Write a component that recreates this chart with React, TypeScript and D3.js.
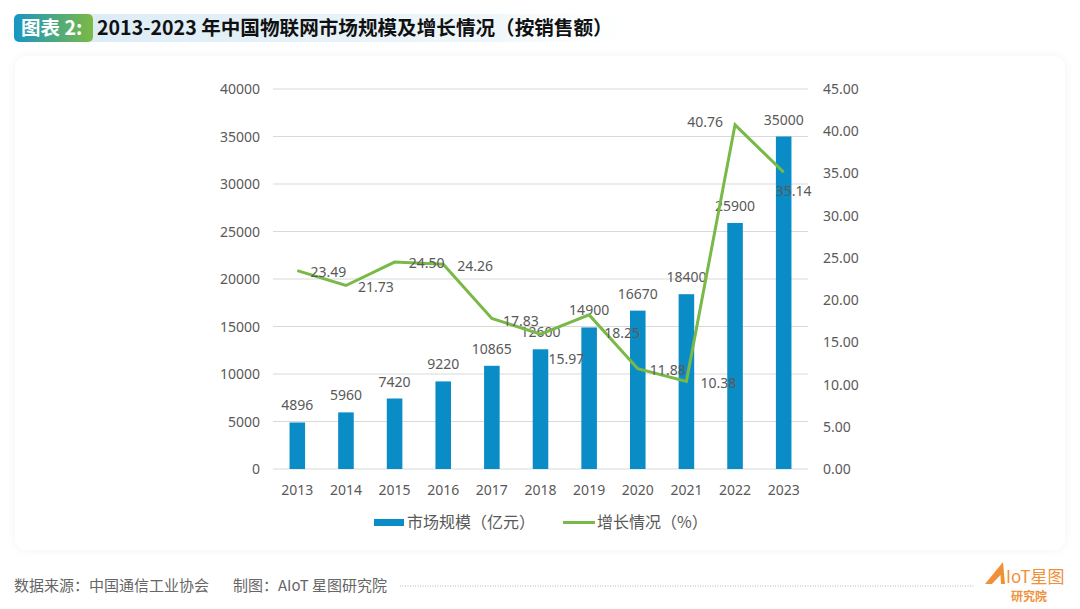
import React from "react";
import * as d3 from "d3";

const years = ["2013", "2014", "2015", "2016", "2017", "2018", "2019", "2020", "2021", "2022", "2023"];
const marketSize = [4896, 5960, 7420, 9220, 10865, 12600, 14900, 16670, 18400, 25900, 35000];
const growthRate = [23.49, 21.73, 24.5, 24.26, 17.83, 15.97, 18.25, 11.88, 10.38, 40.76, 35.14];
const leftTicks = [0, 5000, 10000, 15000, 20000, 25000, 30000, 35000, 40000];
const rightTicks = [0, 5, 10, 15, 20, 25, 30, 35, 40, 45];

// label placement offsets (styling), relative to each line point
const growthLabelOffsets: [number, number][] = [
  [31, 1], [30, 1.5], [32, 1], [32, 2], [29, 3], [26, 25], [33, 18], [30, 1], [32, 2], [-30, -3], [10, 19],
];

const W = 1080;
const H = 609;
const BAR = "#0a8cc6";
const LINE = "#78b947";
const TXT = "#595959";
const FONT = "'Noto Sans', 'Noto Sans CJK SC', sans-serif";
const CJK = "'Noto Sans CJK SC', 'Noto Sans', sans-serif";

export default function App() {
  const left = 273;
  const right = 808;
  const top = 89;
  const bottom = 469;

  const x = d3.scaleBand<string>().domain(years).range([left, right]).paddingInner(0.68).paddingOuter(0.34);
  const yL = d3.scaleLinear().domain([0, 40000]).range([bottom, top]);
  const yR = d3.scaleLinear().domain([0, 45]).range([bottom, top]);
  const cx = (y: string) => (x(y) ?? 0) + x.bandwidth() / 2;

  const linePath = d3
    .line<number>()
    .x((_, i) => cx(years[i]))
    .y((d) => yR(d))(growthRate) as string;

  return (
    <svg width={W} height={H} style={{ position: "absolute", left: 0, top: 0, background: "#ffffff" }} fontFamily={FONT}>
      <defs>
        <linearGradient id="badge" x1="0" x2="1" y1="0" y2="0">
          <stop offset="0%" stopColor="#1796c4" />
          <stop offset="100%" stopColor="#7cb944" />
        </linearGradient>
        <linearGradient id="titlebg" x1="0" x2="1" y1="0" y2="0">
          <stop offset="0%" stopColor="#dcecf6" />
          <stop offset="70%" stopColor="#eef6fa" />
          <stop offset="100%" stopColor="#ffffff" stopOpacity="0" />
        </linearGradient>
        <filter id="shadow" x="-5%" y="-5%" width="110%" height="110%">
          <feDropShadow dx="0" dy="0" stdDeviation="4" floodColor="#000" floodOpacity="0.05" />
        </filter>
      </defs>

      {/* Title */}
      <rect x={88} y={14} width={570} height={28} fill="url(#titlebg)" />
      <rect x={14} y={14} width={79} height={28} rx={5} fill="url(#badge)" />
      <text x={21} y={35} fill="#fff" fontSize={19.5} fontWeight={700} fontFamily={CJK}>图表 2:</text>
      <text x={97} y={35} fill="#111" fontSize={19.6} fontWeight={700} fontFamily={CJK}>
        2013-2023 年中国物联网市场规模及增长情况（按销售额）
      </text>

      {/* Card */}
      <rect x={15} y={56} width={1050} height={494} rx={12} fill="#fff" filter="url(#shadow)" />

      {/* Gridlines */}
      {leftTicks.map((t) => (
        <line key={t} x1={left} x2={right} y1={yL(t)} y2={yL(t)} stroke="#d9d9d9" strokeWidth={1.2} />
      ))}

      {/* Left axis labels */}
      {leftTicks.map((t) => (
        <text key={t} x={260} y={yL(t) + 5} textAnchor="end" fontSize={14} fill={TXT}>
          {t}
        </text>
      ))}
      {/* Right axis labels */}
      {rightTicks.map((t) => (
        <text key={t} x={823} y={yR(t) + 5} textAnchor="start" fontSize={14} fill={TXT}>
          {t.toFixed(2)}
        </text>
      ))}
      {/* X labels */}
      {years.map((y) => (
        <text key={y} x={cx(y)} y={495} textAnchor="middle" fontSize={14} fill={TXT}>
          {y}
        </text>
      ))}

      {/* Bars */}
      {marketSize.map((v, i) => (
        <rect key={years[i]} x={x(years[i])} y={yL(v)} width={x.bandwidth()} height={bottom - yL(v)} fill={BAR} />
      ))}
      {marketSize.map((v, i) => (
        <text key={years[i]} x={cx(years[i])} y={yL(v) - 12} textAnchor="middle" fontSize={14} fill={TXT}>
          {v}
        </text>
      ))}

      {/* Line */}
      <path d={linePath} fill="none" stroke={LINE} strokeWidth={3} strokeLinejoin="miter" />
      {growthRate.map((v, i) => (
        <text
          key={years[i]}
          x={cx(years[i]) + growthLabelOffsets[i][0]}
          y={yR(v) + growthLabelOffsets[i][1] + 5}
          textAnchor="middle"
          fontSize={14}
          fill={TXT}
        >
          {v.toFixed(2)}
        </text>
      ))}

      {/* Legend */}
      <rect x={374} y={519} width={30} height={7} fill={BAR} />
      <text x={407} y={528} fontSize={16} fill={TXT} fontFamily={CJK}>市场规模（亿元）</text>
      <line x1={563} x2={595} y1={522.5} y2={522.5} stroke={LINE} strokeWidth={3} />
      <text x={597} y={528} fontSize={16} fill={TXT} fontFamily={CJK}>增长情况（%）</text>

      {/* Footer */}
      <text x={14} y={591} fontSize={15} fill="#666" fontFamily={CJK}>
        数据来源：中国通信工业协会
      </text>
      <text x={233} y={591} fontSize={15} fill="#666" fontFamily={CJK}>
        制图：AIoT 星图研究院
      </text>
      <line x1={400} x2={975} y1={586} y2={586} stroke="#b5b5b5" strokeWidth={1} strokeDasharray="1,1.5" />

      {/* Logo */}
      <g fill="#f0913a" fontFamily={CJK}>
        <path d="M985 584 L1003 562 L1005 584 L1001 584 L1000.5 575 L992 584 Z" />
        <text x={1006} y={583} fontSize={17} fill="#f0913a">IoT星图</text>
        <text x={1011} y={601} fontSize={12} fontWeight={700} fill="#f0913a">研究院</text>
      </g>
    </svg>
  );
}
